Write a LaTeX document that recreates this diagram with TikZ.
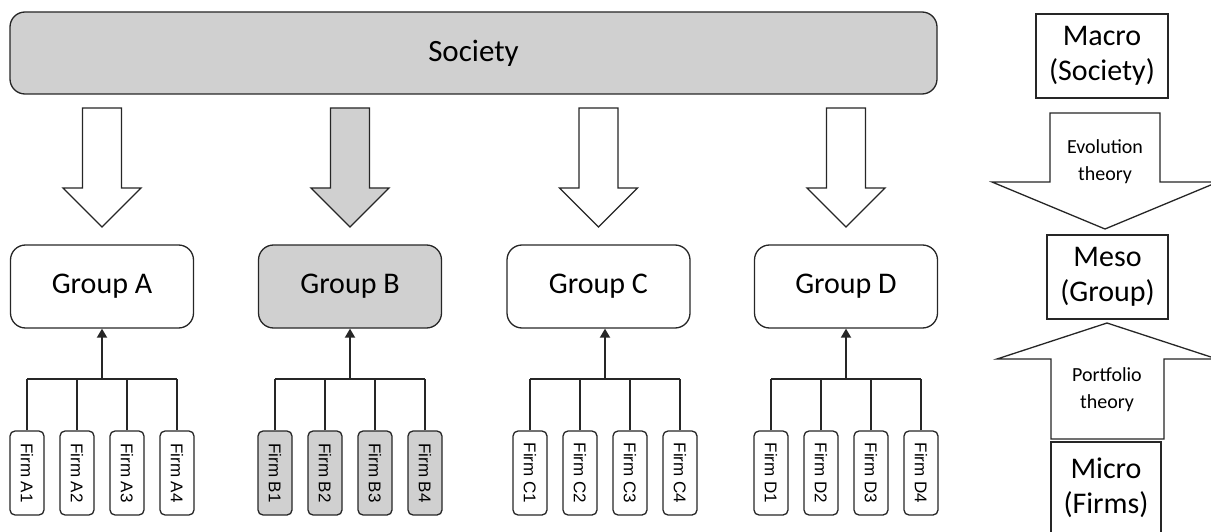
\documentclass[tikz,border=0pt]{standalone}
\usepackage{fontspec}
\setmainfont{Carlito}
\newfontfamily\firmfont{Liberation Sans}
\usetikzlibrary{arrows.meta}
\definecolor{boxgray}{HTML}{D0D0D0}
\definecolor{edgegray}{HTML}{262626}

\tikzset{
  box/.style={draw=edgegray,line width=1.3pt,rounded corners=15pt,inner sep=0pt,
    font=\fontsize{30}{35}\selectfont},
  groupbox/.style={box,minimum width=183pt,minimum height=83pt},
  firm/.style={draw=edgegray,line width=1.3pt,rounded corners=5pt,inner sep=0pt,
    minimum width=34pt,minimum height=84pt,font=\firmfont\fontsize{17}{17}\selectfont},
  levelbox/.style={draw=edgegray,line width=1.3pt,inner sep=0pt,align=center,
    font=\fontsize{30}{35}\selectfont},
  link/.style={draw=edgegray,line width=1.3pt},
  uplink/.style={draw=edgegray,line width=1.8pt,-{Triangle[width=10pt,length=9pt]}},
  fatline/.style={draw=edgegray,line width=1.3pt,line join=miter},
  pics/fatdown/.style={code={
    \draw[fatline,fill=#1] (-19.5,0) -- (19.5,0) -- (19.5,80) -- (39,80)
      -- (0,119) -- (-39,80) -- (-19.5,80) -- cycle;}},
}

\begin{document}
\begin{tikzpicture}[x=1pt,y=-1pt]
  \useasboundingbox (0,0) rectangle (1211,532);

  % society on top
  \node[box,fill=boxgray,minimum width=927pt,minimum height=82pt,
    font=\fontsize{31}{35}\selectfont] (soc) at (473.5,53) {Society};

  % groups
  \node[groupbox] (gA) at (102,286.5) {Group A};
  \node[groupbox,fill=boxgray] (gB) at (350,286.5) {Group B};
  \node[groupbox] (gC) at (598.5,286.5) {Group C};
  \node[groupbox] (gD) at (846,286.5) {Group D};

  \pic at (gA.north |- 0,108) {fatdown=white};
  \pic at (gB.north |- 0,108) {fatdown=boxgray};
  \pic at (gC.north |- 0,108) {fatdown=white};
  \pic at (gD.north |- 0,108) {fatdown=white};

  % firms under each group
  \foreach \g/\cx/\fc in {A/102/white,B/350/boxgray,C/605/white,D/846/white}{
    \coordinate (j\g) at (\cx,379);
    \foreach \i/\dx in {1/-75,2/-25,3/25,4/75}{
      \node[firm,fill=\fc] (f\g\i) at (\cx+\dx,473) {\rotatebox{-90}{Firm \g\i}};
      \draw[link] (f\g\i.north) -- (f\g\i.north |- j\g);
    }
    \draw[link] (f\g1.north |- j\g) -- (f\g4.north |- j\g);
    \draw[uplink] (j\g) -- (j\g |- g\g.south);
  }

  % levels on the right
  \node[levelbox,minimum width=132pt,minimum height=84pt] (macro) at (1102,56) {Macro\\(Society)};
  \node[levelbox,minimum width=121pt,minimum height=84pt] (meso) at (1107.5,277) {Meso\\(Group)};
  \node[levelbox,minimum width=110pt,minimum height=92pt] (micro) at (1106,488) {Micro\\(Firms)};

  \draw[fatline,fill=white] (1050,113) -- (1160,113) -- (1160,182) -- (1218,182)
    -- (1105,229) -- (992,182) -- (1050,182) -- cycle;
  \node[align=center,font=\fontsize{20}{27}\selectfont] (evo) at (1105,162) {Evolution\\theory};

  \draw[fatline,fill=white] (1051,439) -- (1164,439) -- (1164,359) -- (1217,359)
    -- (1107,323) -- (997,359) -- (1051,359) -- cycle;
  \node[align=center,font=\fontsize{20}{27}\selectfont] (port) at (1107,390) {Portfolio\\theory};
\end{tikzpicture}
\end{document}
